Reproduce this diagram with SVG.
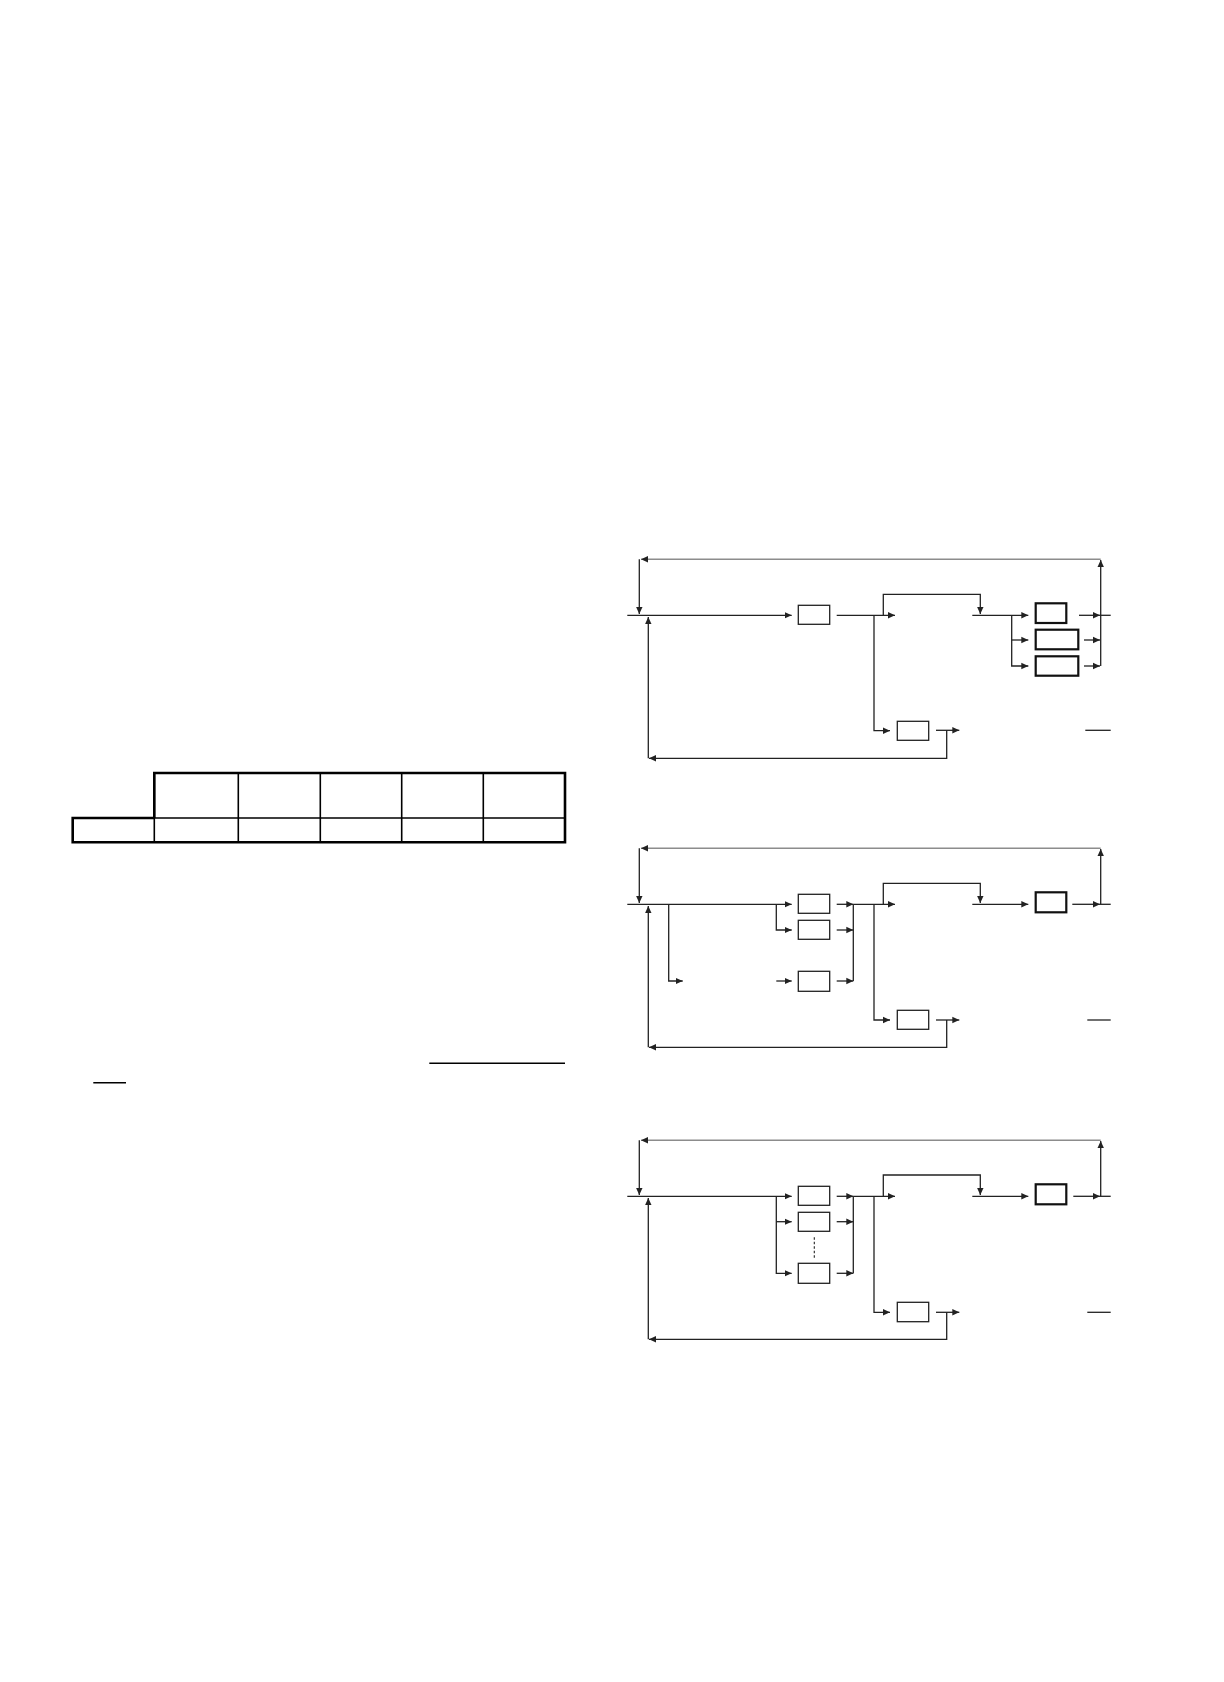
<svg xmlns="http://www.w3.org/2000/svg" width="1224" height="1682" viewBox="0 0 1224 1682">
<defs>
<style>
.c{fill:none;stroke:#222;stroke-width:1.3}
.g{fill:none;stroke:#8c8c8c;stroke-width:1.5}
.b{fill:#fff;stroke:#222;stroke-width:1.3}
.bt{fill:#fff;stroke:#111;stroke-width:2.2}
.d{fill:none;stroke:#222;stroke-width:1.1;stroke-dasharray:2.5,2}
.t{fill:none;stroke:#000;stroke-width:2.6}
.ti{fill:none;stroke:#000;stroke-width:1.6}
</style>
<marker id="a" markerWidth="8" markerHeight="8" refX="7" refY="4" orient="auto" markerUnits="userSpaceOnUse"><path d="M0,0.8 L7,4 L0,7.2 z" fill="#222"/></marker>
</defs>
<rect width="1224" height="1682" fill="#fff"/>

<g id="table">
<path class="ti" d="M154.3,818 H565 M238.3,773 V842.3 M320.3,773 V842.3 M401.7,773 V842.3 M483.3,773 V842.3 M154.3,773 V842.3"/>
<path class="t" d="M154.3,818 V773 H565 V842.3 H72.7 V818 H154.3"/>
</g>
<g id="rules">
<path class="ti" d="M429.3,1063.3 H565 M93.3,1082.7 H126"/>
</g>

<!-- Diagram 1 -->
<g id="d1">
<g id="d1-connectors">
<path class="g" d="M1100.7,559.3 H641" marker-end="url(#a)"/>
<path class="c" d="M639.3,559.3 V614" marker-end="url(#a)"/>
<path class="c" d="M1100.7,666 V560" marker-end="url(#a)"/>
<path class="c" d="M627.3,615.3 H791.7" marker-end="url(#a)"/>
<path class="c" d="M648.3,758.3 V617" marker-end="url(#a)"/>
<path class="c" d="M946.7,730.3 V758.3 H649" marker-end="url(#a)"/>
<path class="c" d="M836.7,615.3 H895" marker-end="url(#a)"/>
<path class="c" d="M874,615.3 V730.7 H890" marker-end="url(#a)"/>
<path class="c" d="M883.3,615.3 V594.3 H980.3 V614" marker-end="url(#a)"/>
<path class="c" d="M936,730.3 H959.3" marker-end="url(#a)"/>
<path class="c" d="M972.3,615.3 H1028.3" marker-end="url(#a)"/>
<path class="c" d="M1011.7,615.3 V666 H1028.3" marker-end="url(#a)"/>
<path class="c" d="M1011.7,640 H1028.3" marker-end="url(#a)"/>
<path class="c" d="M1079,615.3 H1100" marker-end="url(#a)"/>
<path class="c" d="M1100,615.3 H1110.7"/>
<path class="c" d="M1084,640 H1100" marker-end="url(#a)"/>
<path class="c" d="M1084,666 H1100" marker-end="url(#a)"/>
<path class="c" d="M1085.3,730.3 H1110.7"/>
</g>
<g id="d1-n1"><rect class="b" x="798.3" y="605.3" width="31.4" height="19"/></g>
<g id="d1-n2"><rect class="b" x="897.3" y="721.3" width="31.4" height="19"/></g>
<g id="d1-n3"><rect class="bt" x="1035.7" y="603.3" width="30.6" height="19.7"/></g>
<g id="d1-n4"><rect class="bt" x="1035.7" y="629.7" width="42.6" height="19.6"/></g>
<g id="d1-n5"><rect class="bt" x="1035.7" y="656.3" width="42.6" height="19.4"/></g>
</g>

<!-- Diagram 2 -->
<g id="d2" transform="translate(0,289)">
<g id="d2-connectors">
<path class="g" d="M1100.7,559.3 H641" marker-end="url(#a)"/>
<path class="c" d="M639.3,559.3 V614" marker-end="url(#a)"/>
<path class="c" d="M1100.7,615.3 V560" marker-end="url(#a)"/>
<path class="c" d="M627.3,615.3 H791.7" marker-end="url(#a)"/>
<path class="c" d="M668.7,615.3 V692 H682.7" marker-end="url(#a)"/>
<path class="c" d="M776.3,615.3 V641 H791.7" marker-end="url(#a)"/>
<path class="c" d="M776.3,692 H791.7" marker-end="url(#a)"/>
<path class="c" d="M836.7,615.3 H853.3" marker-end="url(#a)"/>
<path class="c" d="M836.7,641 H853.3" marker-end="url(#a)"/>
<path class="c" d="M836.7,692 H853.3" marker-end="url(#a)"/>
<path class="c" d="M853.3,692 V615.3"/>
<path class="c" d="M648.3,758.3 V617" marker-end="url(#a)"/>
<path class="c" d="M946.7,731 V758.3 H649" marker-end="url(#a)"/>
<path class="c" d="M853.3,615.3 H895" marker-end="url(#a)"/>
<path class="c" d="M874,615.3 V731 H890" marker-end="url(#a)"/>
<path class="c" d="M883.3,615.3 V594.3 H980.3 V614" marker-end="url(#a)"/>
<path class="c" d="M936,731 H959.3" marker-end="url(#a)"/>
<path class="c" d="M972.3,615.3 H1028.3" marker-end="url(#a)"/>
<path class="c" d="M1072.3,615.3 H1100" marker-end="url(#a)"/>
<path class="c" d="M1100,615.3 H1110.7"/>
<path class="c" d="M1087.3,731 H1110.7"/>
</g>
<g id="d2-n1"><rect class="b" x="798.3" y="605.3" width="31.4" height="19"/></g>
<g id="d2-n2"><rect class="b" x="798.3" y="631.3" width="31.4" height="19"/></g>
<g id="d2-n3"><rect class="b" x="798.3" y="682.3" width="31.4" height="20"/></g>
<g id="d2-n4"><rect class="b" x="897.3" y="721.3" width="31.4" height="19"/></g>
<g id="d2-n5"><rect class="bt" x="1035.7" y="603.3" width="30.6" height="20"/></g>
</g>

<!-- Diagram 3 -->
<g id="d3" transform="translate(0,581)">
<g id="d3-connectors">
<path class="g" d="M1100.7,559.3 H641" marker-end="url(#a)"/>
<path class="c" d="M639.3,559.3 V614" marker-end="url(#a)"/>
<path class="c" d="M1100.7,615.3 V560" marker-end="url(#a)"/>
<path class="c" d="M627.3,615.3 H791.7" marker-end="url(#a)"/>
<path class="c" d="M776.3,615.3 V692.3 H791.7" marker-end="url(#a)"/>
<path class="c" d="M776.3,640.7 H791.7" marker-end="url(#a)"/>
<path class="d" d="M814.3,656.3 V677.3"/>
<path class="c" d="M836.7,615.3 H853.3" marker-end="url(#a)"/>
<path class="c" d="M836.7,640.7 H853.3" marker-end="url(#a)"/>
<path class="c" d="M836.7,692.3 H853.3" marker-end="url(#a)"/>
<path class="c" d="M853.3,692.3 V615.3"/>
<path class="c" d="M648.3,758.3 V617" marker-end="url(#a)"/>
<path class="c" d="M946.7,731.3 V758.3 H649" marker-end="url(#a)"/>
<path class="c" d="M853.3,615.3 H895" marker-end="url(#a)"/>
<path class="c" d="M874,615.3 V731.3 H890" marker-end="url(#a)"/>
<path class="c" d="M883.3,615.3 V594 H980.3 V614" marker-end="url(#a)"/>
<path class="c" d="M936,731.3 H959.3" marker-end="url(#a)"/>
<path class="c" d="M972.3,615.3 H1028.3" marker-end="url(#a)"/>
<path class="c" d="M1073.3,615.3 H1100" marker-end="url(#a)"/>
<path class="c" d="M1100,615.3 H1110.7"/>
<path class="c" d="M1087.3,731.3 H1110.7"/>
</g>
<g id="d3-n1"><rect class="b" x="798.3" y="605.3" width="31.4" height="19"/></g>
<g id="d3-n2"><rect class="b" x="798.3" y="631.3" width="31.4" height="19"/></g>
<g id="d3-n3"><rect class="b" x="798.3" y="682.3" width="31.4" height="20"/></g>
<g id="d3-n4"><rect class="b" x="897.3" y="721.3" width="31.4" height="19.4"/></g>
<g id="d3-n5"><rect class="bt" x="1035.7" y="603.3" width="30.6" height="20"/></g>
</g>
</svg>
